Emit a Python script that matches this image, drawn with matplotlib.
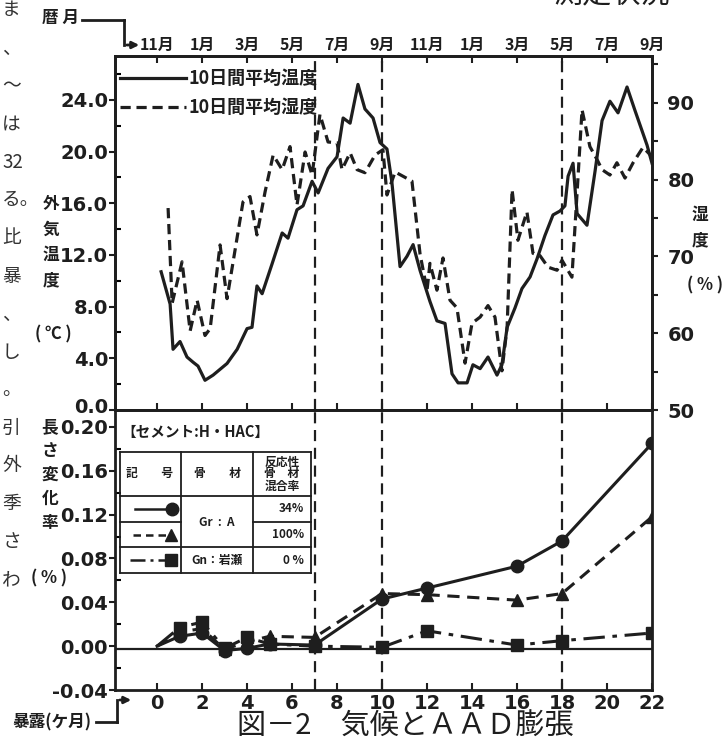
import numpy as np
import matplotlib
matplotlib.use("Agg")
import matplotlib.pyplot as plt
from matplotlib.lines import Line2D
from matplotlib.patches import FancyArrowPatch
from matplotlib.transforms import ScaledTranslation

plt.rcParams['font.family'] = ['Noto Sans CJK JP', 'DejaVu Sans']
INK = '#1e1e1e'
W, H = 728, 737

# --- upper panel: 10-day means, x = exposure month ---
temp_month = [0.18, 0.58, 0.71, 1.02, 1.33, 1.6, 1.82, 2.13, 2.49, 3.11, 3.56, 4.0, 4.22, 4.44,
              4.67, 5.11, 5.56, 5.82, 6.22, 6.49, 6.89, 7.16, 7.6, 8.0, 8.27, 8.58, 8.93, 9.24,
              9.6, 9.91, 10.22, 10.44, 10.8, 11.11, 11.38, 11.69, 12.13, 12.44, 12.8, 13.11,
              13.38, 13.78, 14.04, 14.36, 14.71, 15.11, 15.33, 15.56, 15.91, 16.22, 16.58,
              16.89, 17.24, 17.6, 17.91, 18.13, 18.27, 18.49, 18.67, 19.11, 19.47, 19.78,
              20.13, 20.49, 20.89, 21.24, 21.78, 22.0]
temp_value = [10.7, 8.2, 4.7, 5.3, 4.1, 3.7, 3.4, 2.3, 2.7, 3.6, 4.7, 6.3, 6.4, 9.6,
              9.0, 11.3, 13.7, 13.3, 15.5, 15.8, 17.7, 16.8, 18.7, 19.6, 22.6, 22.2, 25.2, 23.3,
              22.6, 20.7, 20.2, 17.6, 11.1, 11.9, 12.8, 10.8, 8.4, 6.9, 6.7, 2.8,
              2.1, 2.1, 3.5, 3.2, 4.1, 2.7, 3.5, 6.4, 7.9, 9.4, 10.3,
              11.7, 13.5, 15.1, 15.4, 15.8, 18.1, 19.1, 15.2, 14.3, 18.5, 22.4,
              23.9, 23.0, 25.0, 23.2, 20.5, 19.1]

hum_month = [0.49, 0.67, 1.11, 1.47, 1.78, 2.13, 2.36, 2.8, 3.11, 3.82, 4.13, 4.44, 4.8, 5.16,
             5.56, 5.91, 6.22, 6.58, 6.89, 7.24, 7.6, 8.0, 8.22, 8.58, 8.89, 9.24, 9.69, 10.04,
             10.22, 10.58, 11.02, 11.33, 11.69, 12.0, 12.13, 12.44, 12.71, 13.02, 13.33, 13.69,
             14.0, 14.36, 14.71, 15.02, 15.33, 15.56, 15.78, 16.04, 16.44, 16.71, 17.02, 17.38,
             17.78, 18.0, 18.44, 18.67, 18.89, 19.24, 19.56, 19.78, 20.13, 20.44, 20.8, 21.16,
             21.6, 22.0]
hum_value = [76.3, 63.9, 69.3, 60.3, 64.3, 59.7, 60.6, 71.5, 64.5, 77.1, 77.8, 72.8, 78.4, 83.2,
             81.3, 84.3, 76.7, 83.6, 80.6, 88.5, 84.9, 84.8, 81.3, 83.5, 81.3, 80.9, 83.2, 83.9,
             78.0, 81.0, 80.3, 79.8, 70.3, 65.6, 69.1, 65.6, 69.8, 64.3, 63.3, 56.1,
             61.3, 62.1, 63.6, 62.1, 55.1, 60.8, 78.7, 72.1, 75.8, 70.4, 70.1, 68.6,
             68.2, 69.5, 67.3, 78.3, 89.1, 84.3, 82.6, 81.3, 80.6, 82.2, 80.2, 82.2,
             84.2, 83.0]

cal_labels = ['11月', '1月', '3月', '5月', '7月', '9月', '11月', '1月', '3月', '5月', '7月', '9月']
cal_pos = [0, 2, 4, 6, 8, 10, 12, 14, 16, 18, 20, 22]

# --- lower panel: length change (%) ---
exp_month = [0, 1, 2, 3, 4, 5, 7, 10, 12, 16, 18, 22]
gr_34 = [0, 0.009, 0.012, -0.004, -0.002, 0.002, 0.001, 0.043, 0.053, 0.073, 0.096, 0.185]
gr_100 = [0, 0.013, 0.016, -0.003, 0.004, 0.009, 0.008, 0.048, 0.047, 0.042, 0.048, 0.118]
gn_0 = [0, 0.017, 0.022, -0.002, 0.008, 0.002, 0.0, -0.001, 0.014, 0.001, 0.005, 0.012]
marker_months = [7, 10, 18]

DASH = (0, (3.2, 1.8))
DASHDOT = (0, (7, 2.5, 1.5, 2.5))


def fx(x):
    return x / W


def fy(y):
    return 1 - y / H


fig = plt.figure(figsize=(7.28, 7.37), dpi=100)
L, R, T, M, B = 115, 652, 56, 410, 690
ax_t = fig.add_axes([fx(L), fy(M), fx(R) - fx(L), fy(T) - fy(M)])
ax_b = fig.add_axes([fx(L), fy(B), fx(R) - fx(L), fy(M) - fy(B)])
ax_h = ax_t.twinx()

num_font = dict(family='DejaVu Sans', weight='bold', size=14)

# upper panel
ax_t.plot(temp_month, temp_value, color=INK, lw=2.3)
ax_h.plot(hum_month, hum_value, color=INK, lw=2.3, ls=DASH)
ax_t.set_xlim(-1.87, 22)
ax_t.set_ylim(0, 27.4)
ax_h.set_ylim(50, 96.1)
ax_t.set_yticks(np.arange(0, 25, 4))
ax_t.set_yticklabels([f'{v:.1f}' for v in np.arange(0, 25, 4)], **num_font)
ax_t.set_yticks(np.arange(2, 27, 4), minor=True)
ax_t.set_xticks(cal_pos)
ax_t.set_xticklabels(cal_labels, fontsize=11.5, fontweight='bold')
ax_t.tick_params(axis='x', top=True, bottom=True, labeltop=True, labelbottom=False,
                 direction='in', length=5, width=1.5, pad=2, colors=INK)
ax_t.tick_params(axis='y', which='major', direction='out', length=4, width=1.5, pad=1, colors=INK)
ax_t.tick_params(axis='y', which='minor', direction='in', length=4, width=1.5)
# lift the "0.0" label a little off the "0.20" below it
zero_lab = ax_t.get_yticklabels()[0]
zero_lab.set_transform(zero_lab.get_transform() + ScaledTranslation(0, 3 / 72, fig.dpi_scale_trans))
ax_h.set_yticks(np.arange(50, 91, 10))
ax_h.set_yticklabels([str(v) for v in range(50, 91, 10)], **num_font)
ax_h.set_yticks(np.arange(55, 96, 10), minor=True)
ax_h.tick_params(axis='y', which='both', direction='out', width=1.5, length=4, pad=7, colors=INK)

# lower panel
ax_b.axhline(-0.003, color=INK, lw=1.6)
ax_b.plot(exp_month, gr_34, color=INK, lw=2.2, marker='o', ms=9, markevery=slice(1, None))
ax_b.plot(exp_month, gr_100, color=INK, lw=2.2, ls=(0, (4, 2.5)), marker='^', ms=9,
          markevery=slice(1, None))
ax_b.plot(exp_month, gn_0, color=INK, lw=2.2, ls=DASHDOT, marker='s', ms=8,
          markevery=slice(1, None))
ax_b.set_xlim(-1.87, 22)
ax_b.set_ylim(-0.04, 0.2155)
ax_b.set_xticks(np.arange(0, 23, 2))
ax_b.set_xticklabels([str(v) for v in range(0, 23, 2)], **num_font)
ax_b.set_yticks(np.arange(-0.04, 0.21, 0.04))
ax_b.set_yticklabels([f'{v:.2f}' for v in np.arange(-0.04, 0.21, 0.04)], **num_font)
ax_b.set_yticks(np.arange(-0.02, 0.21, 0.04), minor=True)
ax_b.tick_params(axis='x', direction='in', length=5, width=1.5, pad=3, colors=INK)
ax_b.tick_params(axis='y', which='major', direction='out', length=4, width=1.5, pad=1, colors=INK)
ax_b.tick_params(axis='y', which='minor', direction='in', length=4, width=1.5)

for ax in (ax_t, ax_b):
    for m in marker_months:
        ax.axvline(m, color=INK, lw=1.6, ls=(0, (5, 3)))
for ax in (ax_t, ax_b, ax_h):
    for s in ax.spines.values():
        s.set_linewidth(2)
        s.set_color(INK)


def seg(x0, y0, x1, y1, **kw):
    kw.setdefault('lw', 1.3)
    kw.setdefault('color', INK)
    fig.add_artist(Line2D([fx(x0), fx(x1)], [fy(y0), fy(y1)], **kw))


# legend of upper panel
seg(120, 78, 186, 78, lw=2.3)
seg(120, 107, 186, 107, lw=2.3, ls=DASH)
fig.text(fx(188), fy(78), '10日間平均温度', fontsize=13, fontweight='bold', color=INK, va='center')
fig.text(fx(188), fy(107), '10日間平均湿度', fontsize=13, fontweight='bold', color=INK, va='center')

# key table in lower panel
fig.text(fx(121), fy(432), '【セメント:H・HAC】', fontsize=10.5, fontweight='bold', color=INK, va='center')
tl, c1, c2, tr = 120, 181, 253, 311
r0, r1, r2, r3, r4 = 452, 496, 522, 547, 573
for yy in (r0, r1, r3, r4):
    seg(tl, yy, tr, yy)
seg(tl, r2, c1, r2)
seg(c2, r2, tr, r2)
for xx in (tl, c1, c2, tr):
    seg(xx, r0, xx, r4)

small = dict(fontsize=8.5, fontweight='bold', color=INK, ha='center', va='center')
fig.text(fx(150), fy(473), '記　　号', **small)
fig.text(fx(217), fy(473), '骨　　材', **small)
fig.text(fx(282), fy(462), '反応性', **small)
fig.text(fx(282), fy(474), '骨　材', **small)
fig.text(fx(282), fy(486), '混合率', **small)
fig.text(fx(217), fy(522), 'Gr  :  A', **small)
fig.text(fx(217), fy(560), 'Gn：岩瀬', **small)
fig.text(fx(304), fy(509), '34%', **dict(small, ha='right'))
fig.text(fx(304), fy(535), '100%', **dict(small, ha='right'))
fig.text(fx(304), fy(560), '0 %', **dict(small, ha='right'))
seg(135, 509, 172, 509, lw=1.8, marker='o', ms=9, markevery=[1])
seg(133, 535, 171, 535, ls=(0, (3, 2)), lw=1.8, marker='^', ms=9, markevery=[1])
seg(130, 560, 171, 560, ls=(0, (6, 2, 1.2, 2)), lw=1.8, marker='s', ms=8, markevery=[1])

# axis titles
lab = dict(fontsize=12, fontweight='bold', color=INK, ha='center', va='center')
for i, ch in enumerate('外気温度'):
    fig.text(fx(51), fy(204 + 25.5 * i), ch, **lab)
fig.text(fx(53), fy(334), '( ℃ )', **lab)
for i, ch in enumerate('長さ変化率'):
    fig.text(fx(50), fy(427 + 24 * i), ch, **lab)
fig.text(fx(49), fy(578), '( % )', **lab)
for i, ch in enumerate('湿度'):
    fig.text(fx(700), fy(215 + 25 * i), ch, **lab)
fig.text(fx(705), fy(285), '( % )', **lab)

# calendar / exposure pointers
fig.text(fx(60), fy(18), '暦 月', **lab)
seg(82, 20, 124, 20, lw=2)
seg(124, 20, 124, 45, lw=2)
fig.add_artist(FancyArrowPatch((fx(124), fy(45)), (fx(142), fy(45)), transform=fig.transFigure,
                               arrowstyle='-|>', mutation_scale=10, color=INK, lw=2))
fig.text(fx(52), fy(722), '暴露(ケ月)', **lab)
seg(96, 722, 117, 722, lw=2)
seg(117, 722, 117, 700, lw=2)
fig.add_artist(FancyArrowPatch((fx(117), fy(700)), (fx(134), fy(700)), transform=fig.transFigure,
                               arrowstyle='-|>', mutation_scale=10, color=INK, lw=2))

# cropped surrounding page text
body = ['ま', '、', '～', 'は', '32', 'る。', '比', '暴', '、', 'し', '。', '引', '外', '季', 'さ', 'わ']
for i, ch in enumerate(body):
    fig.text(fx(2), fy(10 + 38 * i), ch, fontsize=13.5, color='#333333', ha='left', va='center')
fig.text(fx(405), fy(712), '図－2　気候とＡＡＤ膨張', fontsize=21, color=INK, ha='center', va='top')
fig.text(fx(612), fy(10), '測定状況', fontsize=21, color=INK, ha='center', va='bottom')

fig.savefig('out.png', dpi=100, facecolor='white')
